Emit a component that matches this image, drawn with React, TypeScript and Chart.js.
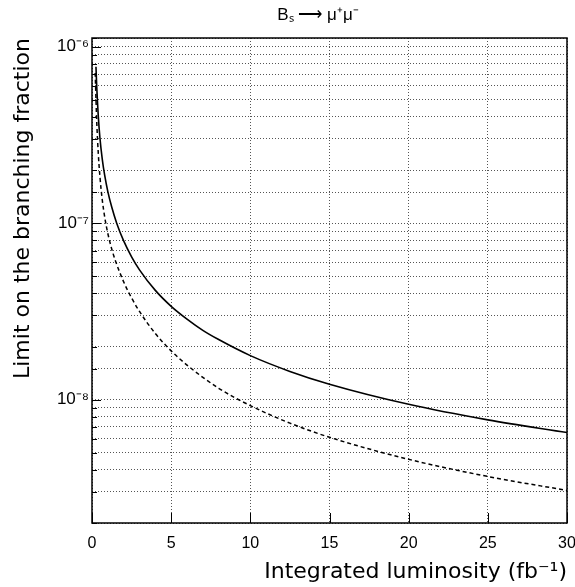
import React, { useEffect, useRef } from "react";
import { Chart, registerables } from "chart.js";

Chart.register(...registerables);

// Integrated luminosity (fb^-1) and limits
const solidLumi = [0.25, 0.3, 0.4, 0.5, 0.65, 0.8, 1, 1.25, 1.56, 2, 2.5, 3, 4, 5, 6, 7, 8, 10, 12.5, 15, 20, 25, 30];
const solidLimit = [7.7e-7, 5.9e-7, 4.0e-7, 3.05e-7, 2.3e-7, 1.87e-7, 1.51e-7, 1.23e-7, 1.0e-7, 7.93e-8, 6.45e-8, 5.44e-8, 4.16e-8, 3.38e-8, 2.86e-8, 2.47e-8, 2.19e-8, 1.776e-8, 1.446e-8, 1.223e-8, 9.41e-9, 7.68e-9, 6.51e-9];

const dashedLumi = [0.2, 0.3, 0.4, 0.5, 0.65, 0.82, 1, 1.25, 1.5, 2, 2.5, 3, 4, 5, 6, 8, 10, 12.5, 15, 20, 25, 30];
const dashedLimit = [7.1e-7, 3.74e-7, 2.46e-7, 1.84e-7, 1.35e-7, 1.06e-7, 8.74e-8, 7.12e-8, 6.05e-8, 4.65e-8, 3.77e-8, 3.16e-8, 2.37e-8, 1.89e-8, 1.57e-8, 1.16e-8, 9.25e-9, 7.36e-9, 6.12e-9, 4.59e-9, 3.67e-9, 3.06e-9];

const xTickStep = 5;
const xMin = 0;
const xMax = 30;
const yMin = 2e-9;
const yMax = 1.12e-6;

const titleText = "B\u209B \u27F6 \u03BC\u207A\u03BC\u207B";
const xTitle = "Integrated luminosity (fb\u207B\u00B9)";
const yTitle = "Limit on the branching fraction";

const FONT = '"Liberation Sans", Arial, Helvetica, sans-serif';
const TITLE_FONT = '"DejaVu Sans", Verdana, sans-serif';

const SUP: Record<string, string> = {
  "-": "\u207B", "0": "\u2070", "1": "\u00B9", "2": "\u00B2", "3": "\u00B3",
  "4": "\u2074", "5": "\u2075", "6": "\u2076", "7": "\u2077", "8": "\u2078", "9": "\u2079",
};

function isPow10(v: number) {
  const l = Math.log10(v);
  return Math.abs(l - Math.round(l)) < 1e-6;
}

function pow10Label(v: number) {
  const e = String(Math.round(Math.log10(v)));
  return "10" + e.split("").map((c) => SUP[c] || c).join("");
}

const framePlugin = {
  id: "rootFrame",
  afterDatasetsDraw(chart: any) {
    const { ctx, chartArea } = chart;
    const { left, right, top, bottom } = chartArea;
    const x = chart.scales.x;
    const y = chart.scales.y;
    ctx.save();
    ctx.strokeStyle = "#000";
    ctx.lineWidth = 1;
    ctx.setLineDash([]);
    ctx.beginPath();
    y.ticks.forEach((t: any) => {
      const py = Math.round(y.getPixelForValue(t.value)) + 0.5;
      const len = isPow10(t.value) ? 9 : 5;
      ctx.moveTo(left, py);
      ctx.lineTo(left + len, py);
    });
    x.ticks.forEach((t: any) => {
      const px = Math.round(x.getPixelForValue(t.value)) + 0.5;
      ctx.moveTo(px, bottom);
      ctx.lineTo(px, bottom - 10);
    });
    ctx.stroke();
    ctx.lineWidth = 1.5;
    ctx.strokeRect(left, top, right - left, bottom - top);
    ctx.fillStyle = "#000";
    ctx.font = "17px " + FONT;
    ctx.textAlign = "center";
    ctx.textBaseline = "middle";
    ctx.fillText(titleText, 318, 15);
    ctx.restore();
  },
};

export default function App() {
  const ref = useRef<HTMLCanvasElement | null>(null);
  useEffect(() => {
    if (!ref.current) return;
    const chart = new Chart(ref.current, {
      type: "line",
      data: {
        datasets: [
          {
            label: "solid",
            data: solidLumi.map((v, i) => ({ x: v, y: solidLimit[i] })),
            borderColor: "#000",
            borderWidth: 1.6,
            pointRadius: 0,
            fill: false,
            cubicInterpolationMode: "monotone",
          },
          {
            label: "dashed",
            data: dashedLumi.map((v, i) => ({ x: v, y: dashedLimit[i] })),
            borderColor: "#000",
            borderWidth: 1.5,
            borderDash: [4, 3],
            pointRadius: 0,
            fill: false,
            cubicInterpolationMode: "monotone",
          },
        ],
      },
      options: {
        animation: false,
        responsive: false,
        devicePixelRatio: 1,
        layout: { padding: { top: 38, right: 8, left: 0, bottom: 0 } },
        plugins: { legend: { display: false }, tooltip: { enabled: false }, title: { display: false } },
        scales: {
          x: {
            type: "linear",
            min: xMin,
            max: xMax,
            ticks: {
              stepSize: xTickStep,
              color: "#000",
              font: { size: 16, family: FONT },
              padding: 11,
              maxRotation: 0,
              autoSkip: false,
            },
            grid: { color: "#555", lineWidth: 1, drawTicks: false, tickLength: 0 },
            border: { display: false, dash: [1, 2] },
            title: {
              display: true,
              text: xTitle,
              align: "end",
              color: "#000",
              font: { size: 22, family: TITLE_FONT },
              padding: { top: 0, bottom: 2 },
            },
            afterFit: (s: any) => {
              s.height = 64;
              s.paddingLeft = 0;
              s.paddingRight = 0;
            },
          },
          y: {
            type: "logarithmic",
            min: yMin,
            max: yMax,
            ticks: {
              color: "#000",
              font: { size: 17, family: FONT },
              padding: 3,
              autoSkip: false,
              callback: (v: any) => (isPow10(Number(v)) ? pow10Label(Number(v)) : ""),
            },
            grid: { color: "#555", lineWidth: 1, drawTicks: false, tickLength: 0 },
            border: { display: false, dash: [1, 2] },
            title: {
              display: true,
              text: yTitle,
              align: "end",
              color: "#000",
              font: { size: 22, family: TITLE_FONT },
              padding: { top: 10, bottom: 0 },
            },
            afterFit: (s: any) => {
              s.width = 92;
              s.paddingTop = 0;
              s.paddingBottom = 0;
            },
          },
        },
      } as any,
      plugins: [framePlugin],
    });
    return () => chart.destroy();
  }, []);
  return (
    <div style={{ position: "fixed", left: 0, top: 0, width: 575, height: 587, background: "#fff" }}>
      <canvas ref={ref} width={575} height={587} style={{ width: 575, height: 587 }} />
    </div>
  );
}
